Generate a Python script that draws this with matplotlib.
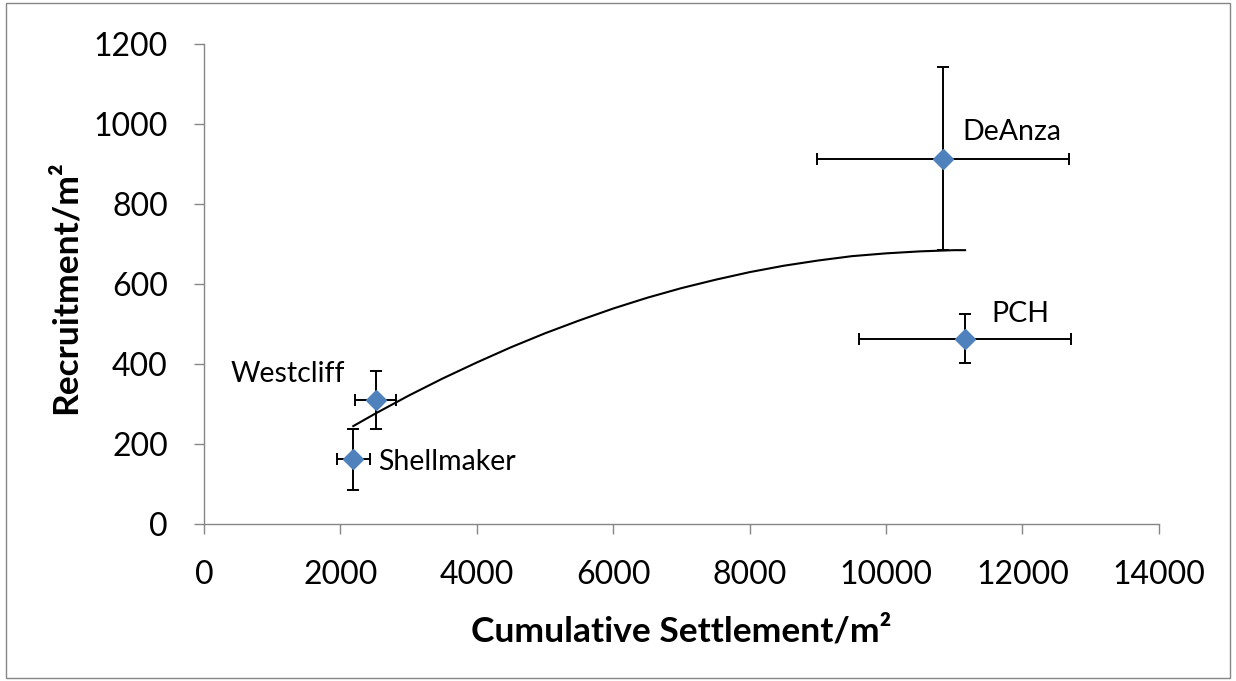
import numpy as np
import matplotlib
matplotlib.use("Agg")
import matplotlib.pyplot as plt

# site data
sites = ["Shellmaker", "Westcliff", "DeAnza", "PCH"]
settlement = [2190, 2520, 10830, 11160]
settlement_err = [245, 298, 1847, 1550]
recruitment = [162, 310, 914, 464]
recruitment_err = [76, 72, 229, 61]

# trend curve, points
trend_x = [2190, 2500, 3000, 3500, 4000, 4500, 5000, 5500, 6000, 6500, 7000,
           7500, 8000, 8500, 9000, 9500, 10000, 10500, 11000, 11160]
trend_y = [245, 275, 321, 364, 404, 442, 477, 509, 539, 566, 590,
           611, 630, 646, 659, 670, 677, 682, 685, 685]

# label offsets (points) from each marker
label_offsets = {"Shellmaker": (18, -2, "left"), "Westcliff": (-22, 19, "right"),
                 "DeAnza": (14, 19, "left"), "PCH": (19, 18, "left")}

plt.rcParams["font.family"] = ["Lato", "DejaVu Sans"]

fig = plt.figure(figsize=(12.36, 6.81), dpi=100)
ax = fig.add_axes([0.165, 0.2305, 0.7725, 0.7045])

grey = "#868686"
ax.plot(trend_x, trend_y, color="black", lw=1.5, zorder=2)
ax.errorbar(settlement, recruitment, xerr=settlement_err, yerr=recruitment_err,
            fmt="D", color="#4F81BD", ms=10.5, ecolor="black", elinewidth=1.4,
            capsize=4, capthick=1.4, zorder=3)

for name, x, y in zip(sites, settlement, recruitment):
    dx, dy, ha = label_offsets[name]
    ax.annotate(name, (x, y), xytext=(dx, dy), textcoords="offset points",
                ha=ha, va="center", fontsize=20.5)

ax.set_xlim(0, 14000)
ax.set_ylim(0, 1200)
ax.set_xticks(np.arange(0, 14001, 2000))
ax.set_yticks(np.arange(0, 1201, 200))
ax.tick_params(direction="out", length=7, width=1, color=grey, labelsize=23, pad=19)
for s in ["top", "right"]:
    ax.spines[s].set_visible(False)
for s in ["left", "bottom"]:
    ax.spines[s].set_color(grey)
    ax.spines[s].set_linewidth(1)

fig.text(0.551, 0.0734, "Cumulative Settlement/m²", ha="center", va="center",
         fontsize=25.5, fontweight="bold")
fig.text(0.0534, 0.578, "Recruitment/m²", ha="center", va="center", rotation=90,
         fontsize=25.5, fontweight="bold")

fig.patches.append(plt.Rectangle((0.005, 0.005), 0.99, 0.99, transform=fig.transFigure,
                                 fill=False, edgecolor=grey, lw=1))

fig.savefig("out.png", dpi=100)
